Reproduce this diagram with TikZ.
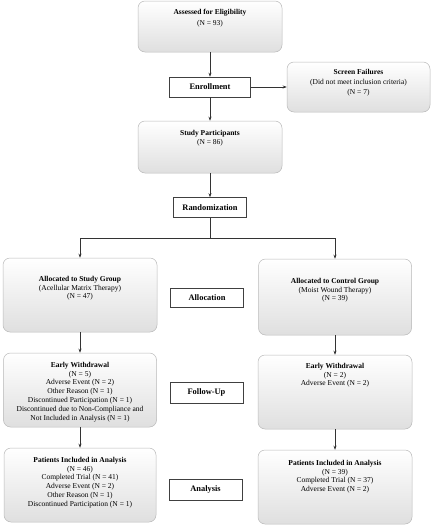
\documentclass[tikz,border=0pt]{standalone}
\usepackage{fontspec}
\setmainfont{Liberation Serif}
\usetikzlibrary{arrows.meta}
% text of a rounded box: width, height, space above, lines
\newcommand{\boxtext}[4]{\parbox[c][#2][t]{#1}{\vspace*{#3}\centering\fontsize{7.5}{8.8}\selectfont #4}}

\begin{document}
\begin{tikzpicture}[x=1pt,y=-1pt,
    flowbox/.style={draw=gray!55,line width=0.5pt,rounded corners=7pt,top color=white,bottom color=gray!25,inner sep=0pt},
    stagebox/.style={draw=black!75,line width=0.6pt,fill=white,inner sep=0pt,minimum width=73pt,minimum height=20pt,font=\fontsize{8.4}{10}\selectfont\bfseries},
    link/.style={draw=black!80,line width=0.5pt},
    arrow/.style={link,-{Stealth[length=4pt,width=3pt]}}]
    \useasboundingbox (0,0) rectangle (432,525);
    % Screening
    \node[flowbox] (assess) at (210,26.5) {\boxtext{144pt}{51pt}{8pt}{\textbf{Assessed for Eligibility}\\[2.5pt](N = 93)}};
    \node[stagebox,minimum width=81pt] (enroll) at (210,87) {Enrollment};
    \node[flowbox] (screen) at (358.5,87) {\boxtext{143pt}{50pt}{7pt}{\textbf{Screen Failures}\\[1.5pt](Did not meet inclusion criteria)\\[1pt](N = 7)}};
    \node[flowbox] (study) at (210,147) {\boxtext{144pt}{52pt}{9pt}{\textbf{Study Participants}\\(N = 86)}};
    \node[stagebox] (random) at (210,207.5) {Randomization};
    \coordinate (split) at (210,238);
    % Allocation
    \node[flowbox] (allocS) at (80,295) {\boxtext{154pt}{74pt}{18pt}{\textbf{Allocated to Study Group}\\(Acellular Matrix Therapy)\\(N = 47)}};
    \node[stagebox,minimum height=19pt] (allocation) at (207,297.5) {Allocation};
    \node[flowbox] (allocC) at (335,297) {\boxtext{153pt}{76pt}{19pt}{\textbf{Allocated to Control Group}\\(Moist Wound Therapy)\\(N = 39)}};
    % Follow-up
    \node[flowbox] (earlyS) at (80,390) {\boxtext{153pt}{74pt}{9pt}{\textbf{Early Withdrawal}\\(N = 5)\\Adverse Event (N = 2)\\Other Reason (N = 1)\\Discontinued Participation (N = 1)\\Discontinued due to Non-Compliance and\\Not Included in Analysis (N = 1)}};
    \node[stagebox,minimum height=21pt] (follow) at (206.5,392.5) {Follow-Up};
    \node[flowbox] (earlyC) at (335,392) {\boxtext{154pt}{74pt}{8pt}{\textbf{Early Withdrawal}\\(N = 2)\\Adverse Event (N = 2)}};
    % Analysis
    \node[flowbox] (analS) at (80,485) {\boxtext{152pt}{74pt}{9pt}{\textbf{Patients Included in Analysis}\\(N = 46)\\Completed Trial (N = 41)\\Adverse Event (N = 2)\\Other Reason (N = 1)\\Discontinued Participation (N = 1)}};
    \node[stagebox,minimum height=21pt] (analysis) at (205.5,489.5) {Analysis};
    \node[flowbox] (analC) at (335,487) {\boxtext{154pt}{74pt}{10pt}{\textbf{Patients Included in Analysis}\\(N = 39)\\Completed Trial (N = 37)\\Adverse Event (N = 2)}};
    % Connectors
    \draw[arrow] (assess) -- (enroll);
    \draw[arrow] (enroll) -- (screen);
    \draw[arrow] (enroll) -- (study);
    \draw[arrow] (study) -- (random);
    \draw[link] (random) -- (split);
    \draw[arrow] (split) -| (allocS);
    \draw[arrow] (split) -| (allocC);
    \draw[arrow] (allocS) -- (earlyS);
    \draw[arrow] (allocC) -- (earlyC);
    \draw[arrow] (earlyS) -- (analS);
    \draw[arrow] (earlyC) -- (analC);
\end{tikzpicture}
\end{document}
